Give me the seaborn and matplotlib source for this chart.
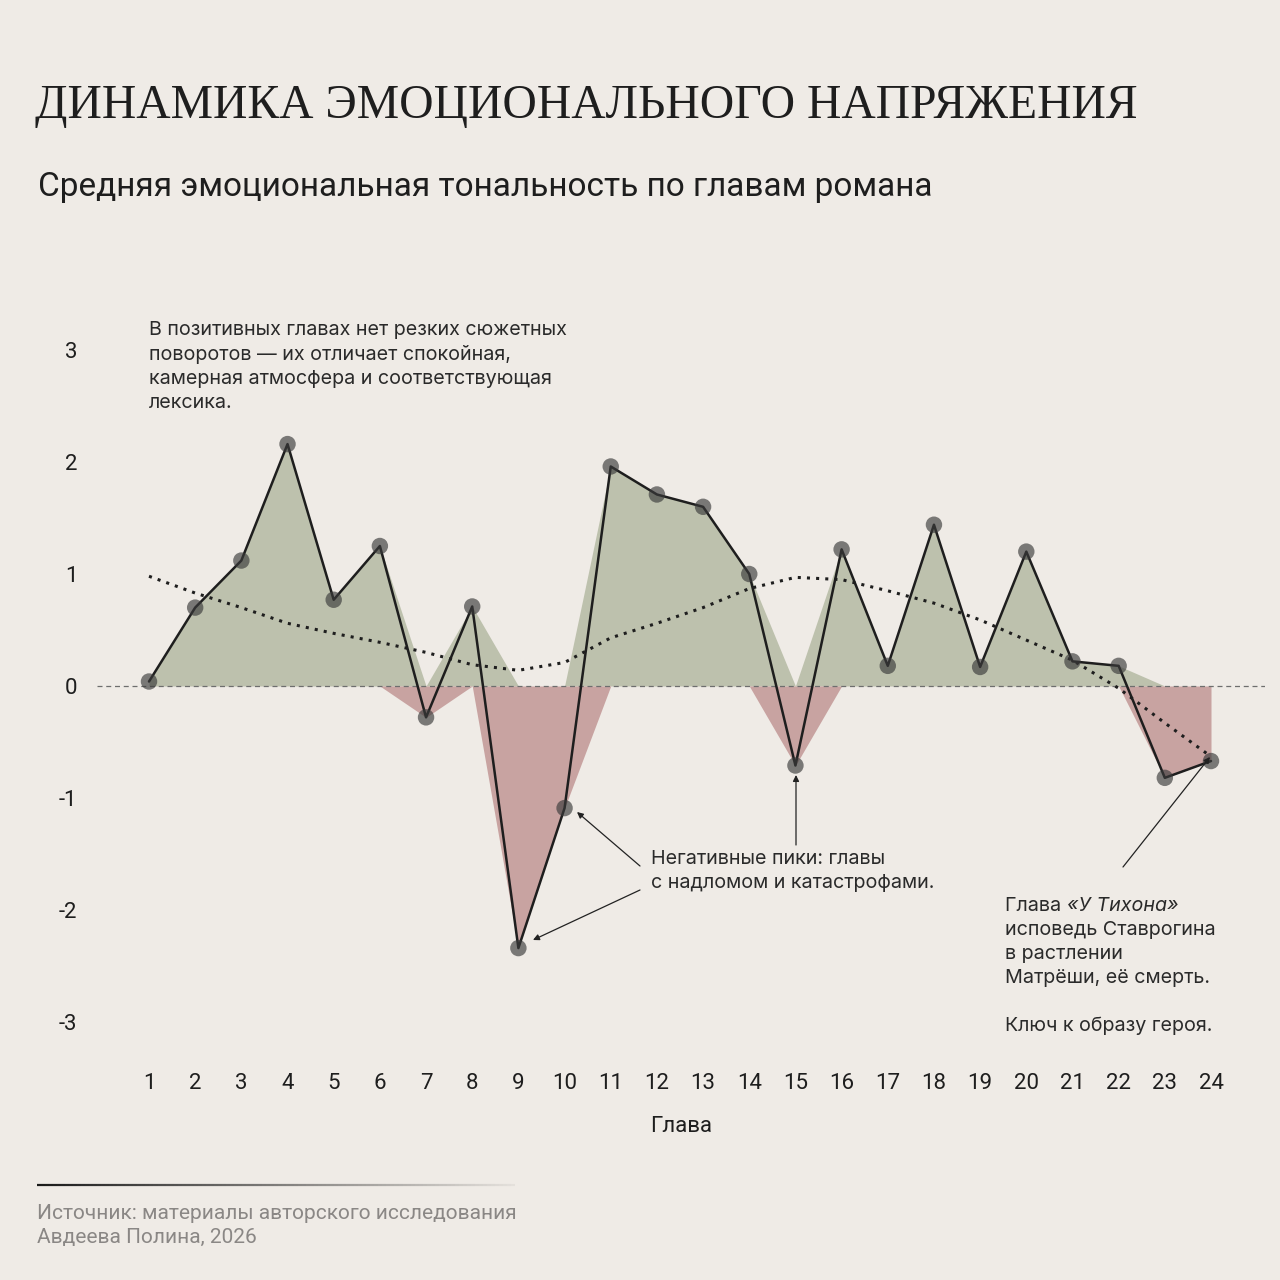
import numpy as np
import pandas as pd
import seaborn as sns
import matplotlib.pyplot as plt
from matplotlib.collections import LineCollection

# chapter-level data
chapters = list(range(1, 25))
tone = [0.04, 0.70, 1.12, 2.16, 0.77, 1.25, -0.28, 0.71, -2.34, -1.09,
        1.96, 1.71, 1.60, 1.00, -0.71, 1.22, 0.18, 1.44, 0.17, 1.20,
        0.22, 0.18, -0.82, -0.67]
trend = [0.98, 0.83, 0.70, 0.56, 0.47, 0.39, 0.30, 0.19, 0.14, 0.21,
         0.43, 0.56, 0.70, 0.87, 0.97, 0.95, 0.85, 0.74, 0.59, 0.41,
         0.23, -0.02, -0.33, -0.63]
y_ticks = [-3, -2, -1, 0, 1, 2, 3]

note_top = ["В позитивных главах нет резких сюжетных",
            "поворотов — их отличает спокойная,",
            "камерная атмосфера и соответствующая",
            "лексика."]
note_neg = ["Негативные пики: главы", "с надломом и катастрофами."]
note_end = ["исповедь Ставрогина", "в растлении", "Матрёши, её смерть.",
            "", "Ключ к образу героя."]

BG = "#EFEBE6"
GREEN = "#BDC1AD"
RED = "#C8A3A1"
INK = "#1E1E1E"
W = H = 1280


def px(x, y):
    return x / W, 1 - y / H


def plot_data(filename):
    sns.set_theme(style="white")
    plt.rcParams["font.family"] = ["Roboto", "DejaVu Sans"]
    plt.rcParams["axes.unicode_minus"] = False

    df = pd.DataFrame({"chapter": chapters, "tone": tone, "trend": trend})
    df["pos"] = df["tone"].clip(lower=0)
    df["neg"] = df["tone"].clip(upper=0)

    fig = plt.figure(figsize=(12.8, 12.8), dpi=100, facecolor=BG)
    l, b = px(97, 1056)
    r, t = px(1265, 316)
    ax = fig.add_axes([l, b, r - l, t - b])
    ax.set_facecolor(BG)

    step = (1211 - 149) / 23
    ax.set_xlim(1 - (149 - 97) / step, 24 + (1265 - 1211) / step)
    ax.set_ylim((686 - 1056) / 112, (686 - 316) / 112)

    ax.fill_between(df["chapter"], df["pos"], 0, color=GREEN, lw=0, zorder=1)
    ax.fill_between(df["chapter"], df["neg"], 0, color=RED, lw=0, zorder=1)
    ax.axhline(0, color="#6E6E6E", lw=0.9, dashes=(4, 3), zorder=2)

    sns.lineplot(data=df, x="chapter", y="trend", ax=ax, color=INK,
                 lw=2.2, linestyle=(0, (1.0, 2.0)), zorder=3)
    sns.lineplot(data=df, x="chapter", y="tone", ax=ax, color=INK,
                 lw=1.8, zorder=4)
    sns.scatterplot(data=df, x="chapter", y="tone", ax=ax, s=140,
                    color="#3A3A3A", alpha=0.65, edgecolor="none", zorder=5)

    for s in ax.spines.values():
        s.set_visible(False)
    ax.set_xticks(chapters)
    ax.set_yticks(y_ticks)
    ax.set_xticklabels([str(c) for c in chapters])
    ax.set_yticklabels([str(v) for v in y_ticks])
    ax.tick_params(axis="x", length=0, pad=12, labelsize=16, labelcolor=INK)
    ax.tick_params(axis="y", length=0, pad=14, labelsize=16, labelcolor=INK)
    ax.set_xlabel("")
    ax.set_ylabel("")
    ax.grid(False)

    # titles
    title = fig.text(*px(35, 118), "ДИНАМИКА ЭМОЦИОНАЛЬНОГО НАПРЯЖЕНИЯ",
                     family=["Liberation Serif", "DejaVu Serif"], fontsize=40,
                     color=INK, va="baseline", ha="left")
    fig.canvas.draw()
    tw = title.get_window_extent().width
    title.set_fontsize(40 * 1102 / tw)

    fig.text(*px(38, 196), "Средняя эмоциональная тональность по главам романа",
             fontsize=24, color=INK, va="baseline", ha="left")
    fig.text(*px(681, 1132), "Глава", fontsize=16, color=INK,
             va="baseline", ha="center")

    # annotations, one line at a time
    note = dict(fontsize=14.2, color="#2A2A2A",
                family=["Inter", "DejaVu Sans"], va="baseline", ha="left")
    for i, line in enumerate(note_top):
        fig.text(*px(149, 335 + 24.5 * i), line, **note)
    for i, line in enumerate(note_neg):
        fig.text(*px(651, 864 + 24 * i), line, **note)

    t1 = fig.text(*px(1005, 911), "Глава ", **note)
    fig.canvas.draw()
    bb = t1.get_window_extent()
    fig.text(bb.x1 / W, 1 - 911 / H, "«У Тихона»", style="italic", **note)
    for i, line in enumerate(note_end):
        if line:
            fig.text(*px(1005, 935 + 24 * i), line, **note)

    def data_xy(x, y):
        return ax.transData.inverted().transform(
            fig.transFigure.transform(px(x, y)))

    arrow = dict(arrowstyle="-|>", lw=0.9, color="#222222",
                 mutation_scale=9, shrinkA=0, shrinkB=0)
    for start, end in [((640, 866), (577, 812)),
                       ((640, 890), (533, 940)),
                       ((796, 845), (796, 775)),
                       ((1123, 867), (1210, 757))]:
        ax.annotate("", xy=data_xy(*end), xytext=data_xy(*start),
                    arrowprops=arrow, zorder=6)

    # footer
    xs = np.linspace(37, 515, 120)
    segs = [[px(xs[i], 1185), px(xs[i + 1], 1185)] for i in range(len(xs) - 1)]
    alphas = np.linspace(1.0, 0.05, len(segs))
    cols = [(0.1, 0.1, 0.1, a) for a in alphas]
    fig.add_artist(LineCollection(segs, colors=cols, linewidths=1.6,
                                  transform=fig.transFigure))
    fig.text(*px(37, 1219), "Источник: материалы авторского исследования",
             fontsize=15, color="#8A8785", va="baseline", ha="left")
    fig.text(*px(37, 1243), "Авдеева Полина, 2026",
             fontsize=15, color="#8A8785", va="baseline", ha="left")

    fig.savefig(filename, dpi=100, facecolor=BG)
    print("Figure saved.")


plot_data("out.png")
